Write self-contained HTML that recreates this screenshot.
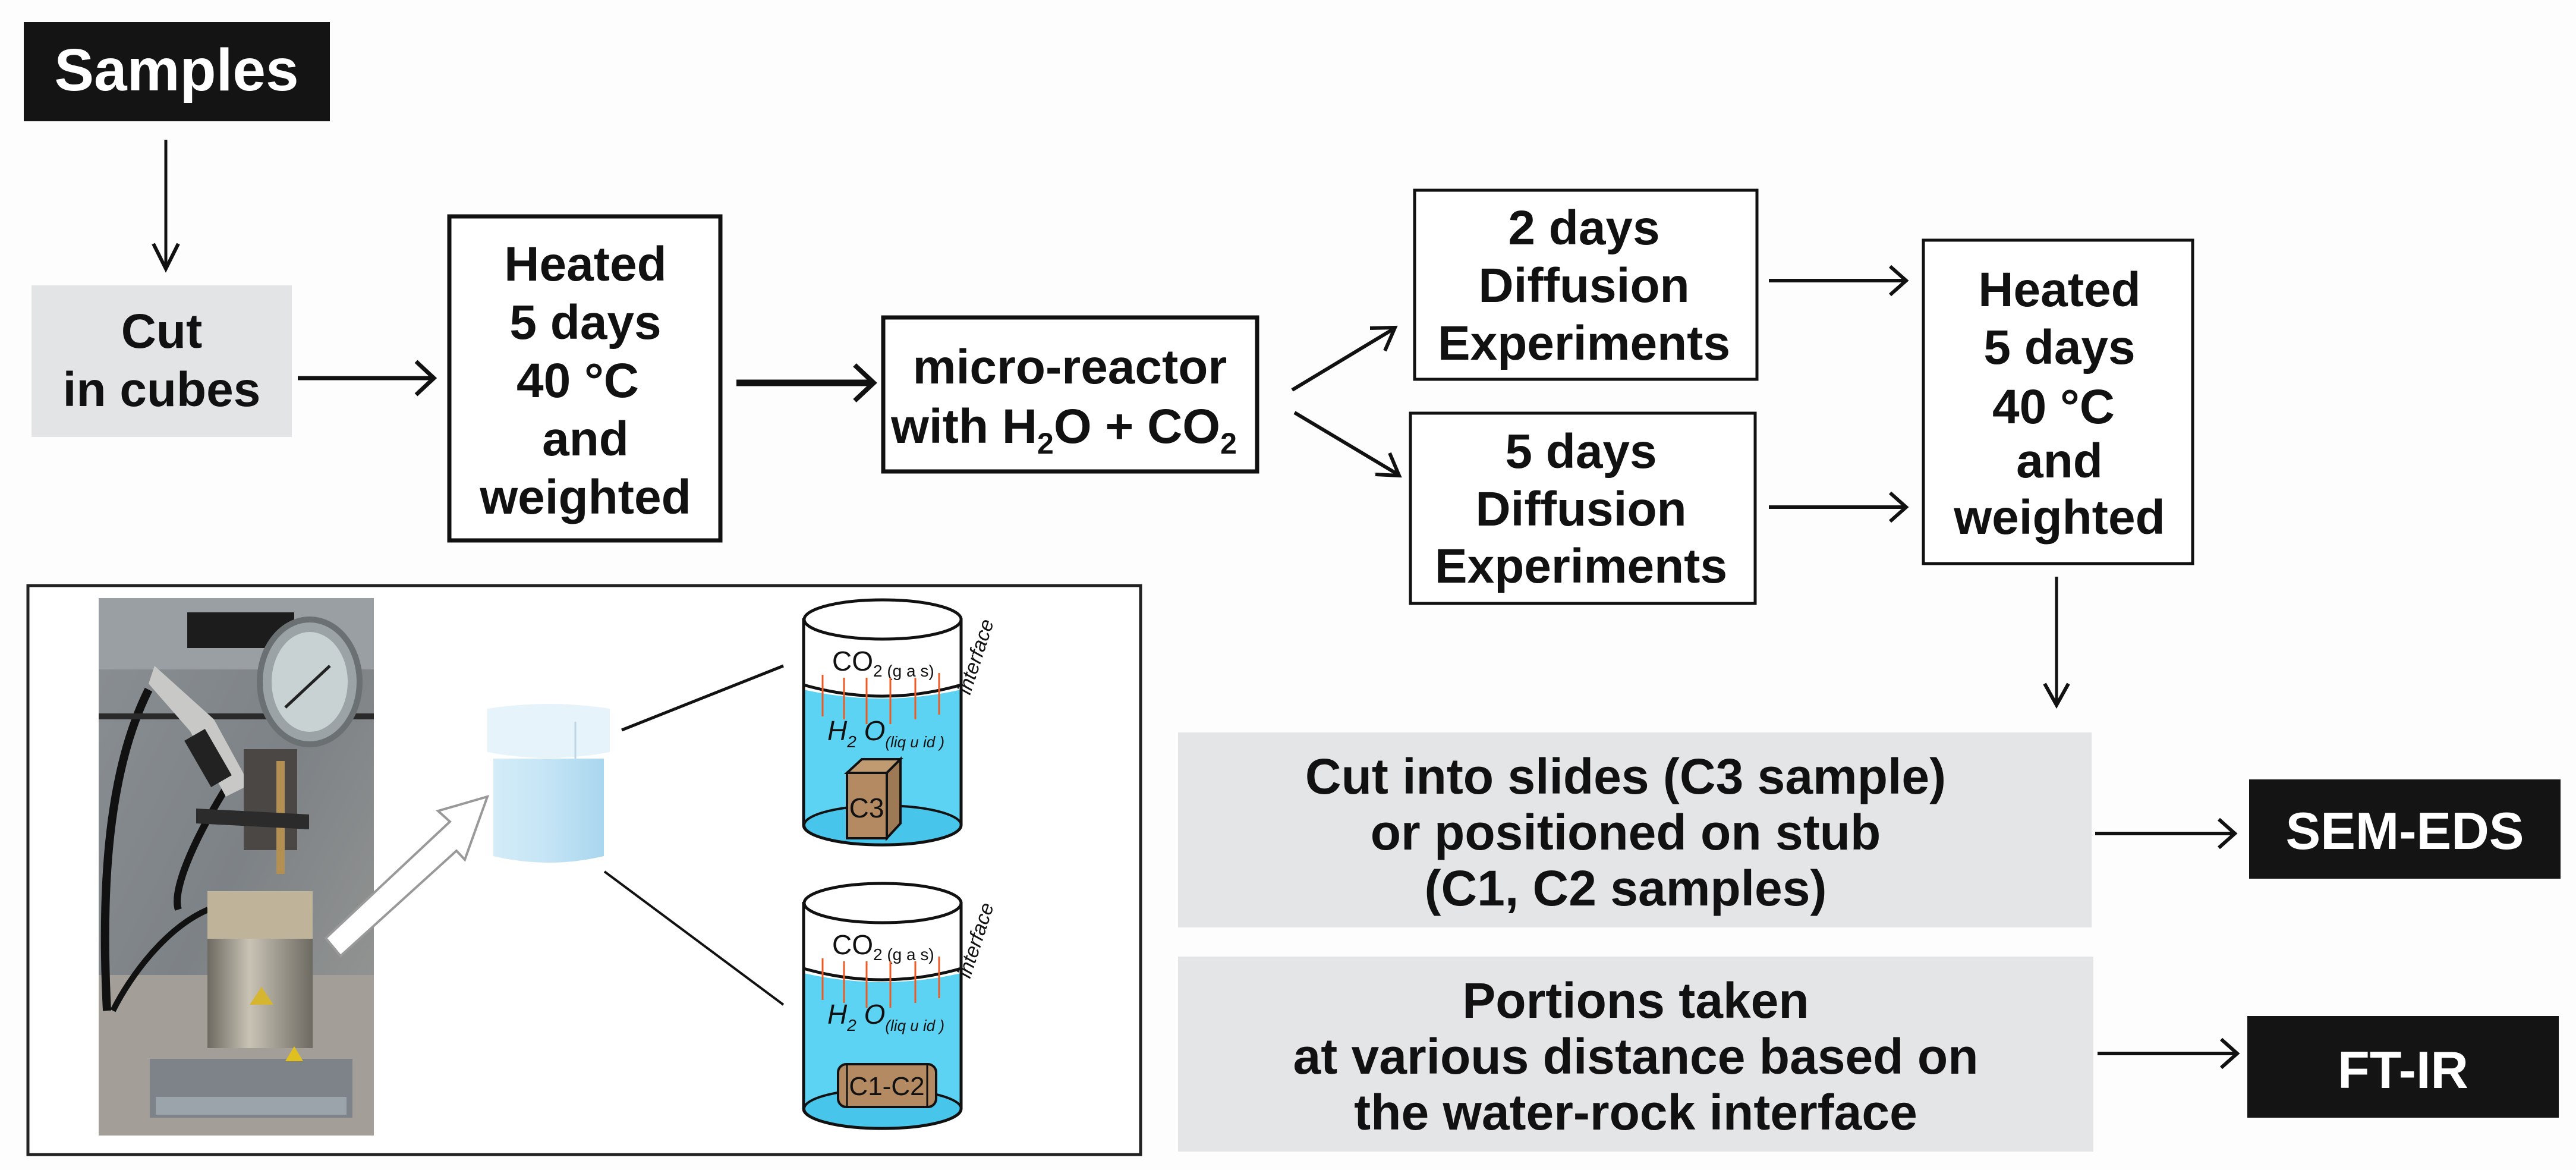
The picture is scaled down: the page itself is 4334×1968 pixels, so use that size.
<!DOCTYPE html>
<html><head><meta charset="utf-8"><style>
html,body{margin:0;padding:0;background:#fdfdfd}
svg{display:block}
text{font-family:"Liberation Sans",Arial,sans-serif;font-weight:bold}
</style></head><body>
<svg width="4334" height="1968" viewBox="0 0 4334 1968" xmlns="http://www.w3.org/2000/svg">
<defs>
<marker id="ah" markerWidth="10" markerHeight="10" refX="9" refY="5" orient="auto" markerUnits="userSpaceOnUse" viewBox="0 0 10 10">
</marker>
<linearGradient id="ph" x1="0" y1="0" x2="1" y2="1"><stop offset="0" stop-color="#8a8f93"/><stop offset="0.5" stop-color="#7d8286"/><stop offset="1" stop-color="#9a9a96"/></linearGradient>
<linearGradient id="jar" x1="0" y1="0" x2="1" y2="0"><stop offset="0" stop-color="#d4ecf8"/><stop offset="0.5" stop-color="#c4e4f5"/><stop offset="1" stop-color="#a9d6ee"/></linearGradient>
<linearGradient id="ves" x1="0" y1="0" x2="1" y2="0"><stop offset="0" stop-color="#6d6a62"/><stop offset="0.4" stop-color="#c9c3b5"/><stop offset="1" stop-color="#6d6a62"/></linearGradient>
</defs>
<rect width="4334" height="1968" fill="#fdfdfd"/>

<!-- Samples -->
<rect x="40" y="37" width="515" height="167" fill="#141414"/>
<text x="297" y="152" font-size="100" fill="#fff" text-anchor="middle">Samples</text>
<line x1="279" y1="235" x2="279" y2="450" stroke="#111" stroke-width="5"/>
<polyline points="258,410 279,452 300,410" fill="none" stroke="#111" stroke-width="6"/>

<!-- Cut in cubes -->
<rect x="53" y="480" width="438" height="255" fill="#e3e4e6"/>
<text x="272" y="585" font-size="82" fill="#111" text-anchor="middle">Cut</text>
<text x="272" y="683" font-size="82" fill="#111" text-anchor="middle">in cubes</text>
<line x1="501" y1="636" x2="728" y2="636" stroke="#111" stroke-width="7"/>
<polyline points="700,608 730,636 700,664" fill="none" stroke="#111" stroke-width="7"/>

<!-- Heated left -->
<rect x="756" y="364" width="456" height="545" fill="#fff" stroke="#111" stroke-width="7"/>
<text x="985" y="472" font-size="82" fill="#111" text-anchor="middle">Heated</text>
<text x="985" y="570" font-size="82" fill="#111" text-anchor="middle">5 days</text>
<text x="972" y="668" font-size="82" fill="#111" text-anchor="middle">40 °C</text>
<text x="985" y="766" font-size="82" fill="#111" text-anchor="middle">and</text>
<text x="985" y="864" font-size="82" fill="#111" text-anchor="middle">weighted</text>
<line x1="1239" y1="644" x2="1468" y2="644" stroke="#111" stroke-width="11"/>
<polyline points="1438,614 1470,644 1438,674" fill="none" stroke="#111" stroke-width="8"/>

<!-- micro-reactor -->
<rect x="1486" y="534" width="629" height="259" fill="#fff" stroke="#111" stroke-width="7"/>
<text x="1800" y="645" font-size="82" fill="#111" text-anchor="middle">micro-reactor</text>
<text x="1790" y="745" font-size="82" fill="#111" text-anchor="middle">with H<tspan font-size="50" dy="18">2</tspan><tspan dy="-18">O + CO</tspan><tspan font-size="50" dy="18">2</tspan></text>

<!-- diagonal arrows -->
<line x1="2174" y1="656" x2="2345" y2="553" stroke="#111" stroke-width="6"/>
<polyline points="2305,552 2347,551 2330,590" fill="none" stroke="#111" stroke-width="6"/>
<line x1="2178" y1="694" x2="2352" y2="798" stroke="#111" stroke-width="6"/>
<polyline points="2314,798 2354,800 2338,762" fill="none" stroke="#111" stroke-width="6"/>

<!-- 2 days / 5 days boxes -->
<rect x="2380" y="320" width="576" height="318" fill="#fff" stroke="#111" stroke-width="5"/>
<text x="2665" y="411" font-size="82" fill="#111" text-anchor="middle">2 days</text>
<text x="2665" y="508" font-size="82" fill="#111" text-anchor="middle">Diffusion</text>
<text x="2665" y="605" font-size="82" fill="#111" text-anchor="middle">Experiments</text>
<rect x="2373" y="695" width="580" height="320" fill="#fff" stroke="#111" stroke-width="5"/>
<text x="2660" y="787" font-size="82" fill="#111" text-anchor="middle">5 days</text>
<text x="2660" y="884" font-size="82" fill="#111" text-anchor="middle">Diffusion</text>
<text x="2660" y="980" font-size="82" fill="#111" text-anchor="middle">Experiments</text>
<line x1="2976" y1="472" x2="3205" y2="472" stroke="#111" stroke-width="6"/>
<polyline points="3180,448 3207,472 3180,496" fill="none" stroke="#111" stroke-width="6"/>
<line x1="2976" y1="853" x2="3205" y2="853" stroke="#111" stroke-width="6"/>
<polyline points="3180,829 3207,853 3180,877" fill="none" stroke="#111" stroke-width="6"/>

<!-- Heated right -->
<rect x="3236" y="404" width="453" height="544" fill="#fff" stroke="#111" stroke-width="5"/>
<text x="3465" y="515" font-size="82" fill="#111" text-anchor="middle">Heated</text>
<text x="3465" y="612" font-size="82" fill="#111" text-anchor="middle">5 days</text>
<text x="3455" y="712" font-size="82" fill="#111" text-anchor="middle">40 °C</text>
<text x="3465" y="803" font-size="82" fill="#111" text-anchor="middle">and</text>
<text x="3465" y="898" font-size="82" fill="#111" text-anchor="middle">weighted</text>
<line x1="3460" y1="970" x2="3460" y2="1184" stroke="#111" stroke-width="5"/>
<polyline points="3440,1150 3460,1186 3480,1150" fill="none" stroke="#111" stroke-width="6"/>

<!-- Gray boxes -->
<rect x="1982" y="1232" width="1537" height="328" fill="#e4e5e7"/>
<text x="2735" y="1335" font-size="84" fill="#111" text-anchor="middle">Cut into slides (C3 sample)</text>
<text x="2735" y="1429" font-size="84" fill="#111" text-anchor="middle">or positioned on stub</text>
<text x="2735" y="1523" font-size="84" fill="#111" text-anchor="middle">(C1, C2 samples)</text>
<rect x="1982" y="1609" width="1540" height="328" fill="#e4e5e7"/>
<text x="2752" y="1712" font-size="84" fill="#111" text-anchor="middle">Portions taken</text>
<text x="2752" y="1806" font-size="84" fill="#111" text-anchor="middle">at various distance based on</text>
<text x="2752" y="1900" font-size="84" fill="#111" text-anchor="middle">the water-rock interface</text>

<line x1="3525" y1="1402" x2="3758" y2="1402" stroke="#111" stroke-width="6"/>
<polyline points="3733,1378 3760,1402 3733,1426" fill="none" stroke="#111" stroke-width="6"/>
<line x1="3529" y1="1772" x2="3762" y2="1772" stroke="#111" stroke-width="6"/>
<polyline points="3737,1748 3764,1772 3737,1796" fill="none" stroke="#111" stroke-width="6"/>

<rect x="3784" y="1311" width="524" height="167" fill="#141414"/>
<text x="4046" y="1428" font-size="88" fill="#fff" text-anchor="middle">SEM-EDS</text>
<rect x="3781" y="1709" width="524" height="171" fill="#141414"/>
<text x="4043" y="1830" font-size="88" fill="#fff" text-anchor="middle">FT-IR</text>

<!-- Inset frame -->
<rect x="47" y="985" width="1872" height="957" fill="#fff" stroke="#222" stroke-width="5"/>

<!-- Photo -->
<rect x="166" y="1006" width="463" height="904" fill="url(#ph)"/>
<rect x="166" y="1006" width="463" height="120" fill="#9a9fa3"/>
<rect x="166" y="1640" width="463" height="270" fill="#a39f98"/>
<rect x="315" y="1030" width="180" height="60" fill="#1c1c1c"/>
<path d="M250 1160 C180 1300 170 1500 180 1700" fill="none" stroke="#111" stroke-width="14"/>
<path d="M390 1310 C320 1420 290 1500 300 1530" fill="none" stroke="#111" stroke-width="12"/>
<path d="M350 1530 C280 1560 220 1640 190 1700" fill="none" stroke="#111" stroke-width="10"/>
<rect x="166" y="1200" width="463" height="10" fill="#2a2a2a"/>
<path d="M260 1120 L360 1210 L420 1320 L380 1340 L320 1230 L250 1150 Z" fill="#c8c8c6"/>
<rect x="330" y="1230" width="40" height="90" fill="#222" transform="rotate(-30 350 1275)"/>
<ellipse cx="521" cy="1147" rx="84" ry="105" fill="#9ba3a6" stroke="#6b7072" stroke-width="10"/>
<ellipse cx="521" cy="1147" rx="64" ry="84" fill="#c9d2d3"/>
<line x1="480" y1="1190" x2="555" y2="1120" stroke="#222" stroke-width="5"/>
<rect x="410" y="1260" width="90" height="170" fill="#4a4744"/>
<rect x="465" y1="0" y="1280" width="14" height="190" fill="#b48f52"/>
<path d="M330 1360 L520 1370 L520 1395 L330 1385 Z" fill="#2b2b2b"/>
<rect x="349" y="1499" width="177" height="80" fill="#bfb39a"/>
<rect x="349" y="1579" width="177" height="184" fill="url(#ves)"/>
<polygon points="420,1690 440,1660 460,1690" fill="#d6b531"/>
<rect x="252" y="1781" width="341" height="99" fill="#7d8388"/>
<rect x="262" y="1845" width="321" height="30" fill="#9aa4aa"/>
<polygon points="480,1785 495,1760 510,1785" fill="#e0c020"/>

<!-- white arrow -->
<polygon points="548,1578 757,1382 737,1364 820,1340 782,1446 768,1431 573,1608" fill="#fff" stroke="#999" stroke-width="4"/>

<!-- jar -->
<path d="M830 1276 L830 1440 Q923 1462 1016 1440 L1016 1276 Z" fill="url(#jar)"/>
<path d="M820 1192 Q923 1176 1026 1192 L1026 1265 Q923 1285 820 1265 Z" fill="#e6f3fa"/>
<line x1="968" y1="1214" x2="968" y2="1276" stroke="#bcd6e6" stroke-width="3"/>

<!-- connector lines -->
<line x1="1046" y1="1228" x2="1318" y2="1120" stroke="#111" stroke-width="5"/>
<line x1="1017" y1="1466" x2="1318" y2="1690" stroke="#111" stroke-width="4"/>

<!-- cylinder 1 -->
<g id="cyl1">
<path d="M1352 1160 Q1485 1190 1617 1160 L1617 1388 A132 33 0 0 1 1352 1388 Z" fill="#5dd3f3"/>
<ellipse cx="1485" cy="1388" rx="132" ry="33" fill="#47c5ea" stroke="#111" stroke-width="4"/>
<path d="M1352 1040 L1352 1388 A132 33 0 0 0 1617 1388 L1617 1040" fill="none" stroke="#111" stroke-width="5"/>
<ellipse cx="1485" cy="1042" rx="132" ry="33" fill="#fff" stroke="#111" stroke-width="5"/>
<path d="M1352 1152 Q1485 1190 1617 1152" fill="none" stroke="#111" stroke-width="5"/>
<text x="1400" y="1128" font-size="46" font-weight="normal" fill="#111" style="font-weight:normal">CO<tspan font-size="28" dy="10">2 (g a s)</tspan></text>
<g stroke="#ee5a24" stroke-width="3">
<line x1="1384" y1="1135" x2="1384" y2="1205"/><line x1="1420" y1="1140" x2="1420" y2="1210"/><line x1="1458" y1="1140" x2="1458" y2="1218"/><line x1="1498" y1="1140" x2="1498" y2="1218"/><line x1="1540" y1="1140" x2="1540" y2="1210"/><line x1="1580" y1="1132" x2="1580" y2="1202"/>
</g>
<text x="1392" y="1245" font-size="46" font-style="italic" fill="#111" style="font-weight:normal">H<tspan font-size="28" dy="12">2</tspan><tspan dy="-12"> O</tspan><tspan font-size="26" dy="12">(liq u id )</tspan></text>
<text x="1632" y="1170" font-size="34" font-style="italic" fill="#111" transform="rotate(-72 1632 1170)" style="font-weight:normal">interface</text>
</g>
<!-- cube C3 -->
<polygon points="1425,1300 1450,1277 1515,1277 1492,1300" fill="#c09a70" stroke="#111" stroke-width="4"/>
<polygon points="1492,1300 1515,1277 1515,1385 1492,1410" fill="#9d7a55" stroke="#111" stroke-width="4"/>
<rect x="1425" y="1300" width="67" height="110" fill="#b48a62" stroke="#111" stroke-width="4"/>
<text x="1458" y="1375" font-size="46" fill="#111" text-anchor="middle" style="font-weight:normal">C3</text>

<!-- cylinder 2 -->
<use href="#cyl1" transform="translate(0,477)"/>
<rect x="1410" y="1790" width="165" height="72" rx="14" fill="#b48a62" stroke="#111" stroke-width="4"/>
<line x1="1425" y1="1792" x2="1425" y2="1860" stroke="#111" stroke-width="3"/>
<line x1="1560" y1="1792" x2="1560" y2="1860" stroke="#111" stroke-width="3"/>
<text x="1492" y="1842" font-size="44" fill="#111" text-anchor="middle" style="font-weight:normal">C1-C2</text>
</svg>
</body></html>
